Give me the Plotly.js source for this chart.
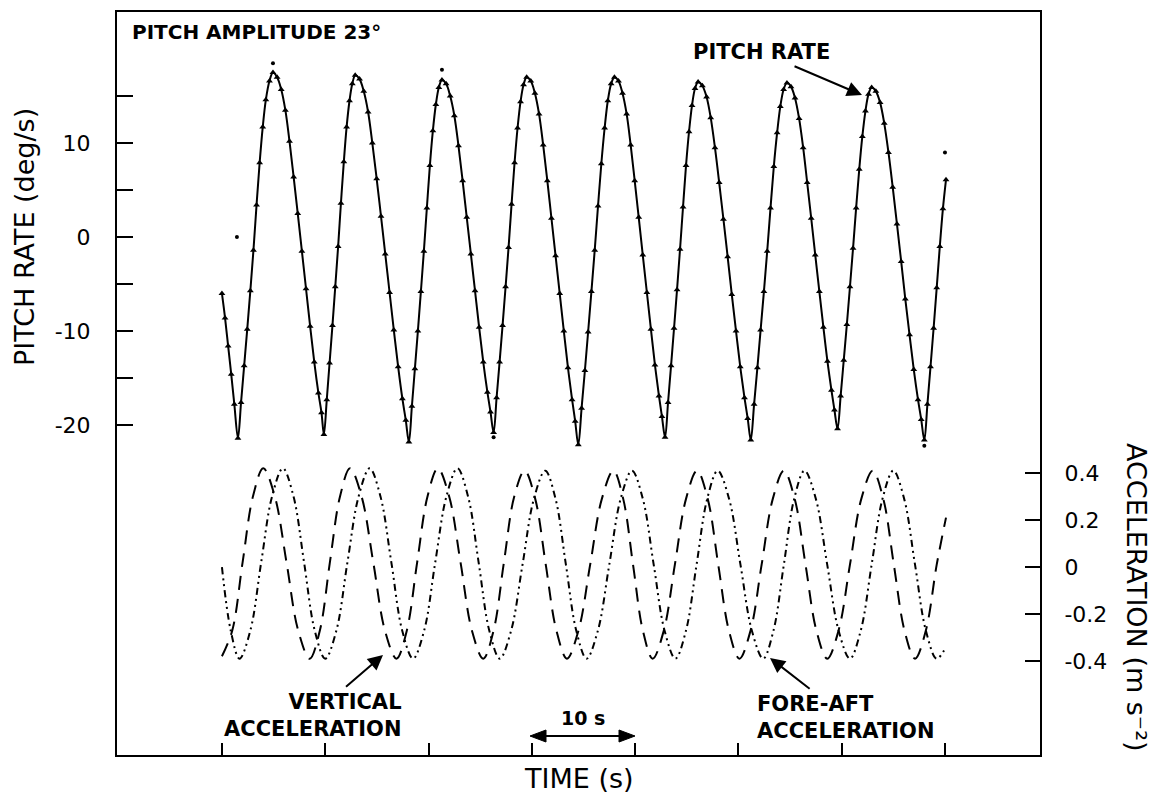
<!DOCTYPE html>
<html>
<head>
<meta charset="utf-8">
<script src="https://cdn.plot.ly/plotly-3.0.1.min.js"></script>
<style>html,body{margin:0;padding:0;background:#fff;}#chart{width:1158px;height:801px;}</style>
</head>
<body>
<div id="chart"></div>
<script>
// ---- Data ----
const pitchTime = [
  0, 0.3, 0.6, 0.9, 1.2, 1.55,
  1.85, 2.15, 2.45, 2.75, 3.05, 3.35, 3.65, 3.95, 4.25, 4.6, 4.94,
  5.34, 5.74, 6.14, 6.54, 6.94, 7.34, 7.74, 8.14, 8.54, 8.94, 9.34, 9.64, 9.87,
  10.15, 10.42, 10.7, 10.97, 11.25, 11.52, 11.8, 12.07, 12.35, 12.62, 12.9,
  13.32, 13.73, 14.15, 14.56, 14.98, 15.4, 15.81, 16.23, 16.64, 17.06, 17.47, 17.8, 18.1,
  18.39, 18.68, 18.97, 19.26, 19.55, 19.84, 20.13, 20.42, 20.71, 21.0, 21.3,
  21.7, 22.1, 22.5, 22.9, 23.3, 23.7, 24.1, 24.5, 24.9, 25.3, 25.7, 26.0, 26.3,
  26.59, 26.88, 27.17, 27.46, 27.75, 28.04, 28.33, 28.62, 28.91, 29.2, 29.5,
  29.9, 30.3, 30.7, 31.1, 31.5, 31.9, 32.3, 32.7, 33.1, 33.5, 33.9, 34.2, 34.5,
  34.82, 35.14, 35.45, 35.77, 36.09, 36.41, 36.73, 37.05, 37.36, 37.68, 38.0,
  38.39, 38.78, 39.18, 39.57, 39.96, 40.35, 40.74, 41.14, 41.53, 41.92, 42.31, 42.6, 42.9,
  43.19, 43.48, 43.77, 44.06, 44.35, 44.64, 44.93, 45.22, 45.51, 45.8, 46.1,
  46.51, 46.92, 47.32, 47.73, 48.14, 48.55, 48.96, 49.36, 49.77, 50.18, 50.59, 50.9, 51.2,
  51.52, 51.84, 52.15, 52.47, 52.79, 53.11, 53.43, 53.75, 54.06, 54.38, 54.7,
  55.09, 55.48, 55.88, 56.27, 56.66, 57.05, 57.44, 57.84, 58.23, 58.62, 59.01, 59.3, 59.6,
  59.9, 60.2, 60.5, 60.8, 61.1, 61.4, 61.7, 62.0, 62.3, 62.6, 62.9,
  63.31, 63.72, 64.12, 64.53, 64.94, 65.35, 65.76, 66.16, 66.57, 66.98, 67.39, 67.7, 68.0,
  68.3, 68.6, 68.9, 69.2, 69.5, 69.8, 70.1
];
const pitchRate = [
  -6.0, -8.6, -11.6, -14.6, -17.8, -21.4,
  -17.6, -13.7, -9.8, -5.7, -1.4, 3.4, 7.9, 11.7, 14.6, 16.6, 17.5,
  17.0, 15.7, 13.5, 10.2, 6.4, 2.5, -1.5, -5.5, -9.5, -13.3, -16.6, -18.7, -21.0,
  -17.3, -13.4, -9.4, -5.3, -1.0, 3.6, 8.0, 11.7, 14.5, 16.3, 17.2,
  16.8, 15.5, 13.3, 10.0, 6.2, 2.2, -1.8, -5.9, -9.9, -13.8, -17.2, -19.5, -21.8,
  -18.0, -14.0, -10.0, -5.8, -1.5, 3.1, 7.6, 11.3, 14.1, 15.9, 16.7,
  16.3, 15.0, 12.9, 9.7, 6.0, 2.1, -1.8, -5.7, -9.6, -13.3, -16.5, -18.6, -20.8,
  -17.1, -13.3, -9.4, -5.3, -1.1, 3.5, 7.9, 11.6, 14.4, 16.2, 17.0,
  16.6, 15.3, 13.1, 9.8, 6.0, 2.0, -2.0, -6.0, -10.0, -13.9, -17.3, -19.6, -22.1,
  -18.2, -14.2, -10.1, -5.8, -1.4, 3.3, 7.8, 11.6, 14.5, 16.3, 17.0,
  16.6, 15.3, 13.1, 9.8, 6.0, 2.1, -1.9, -5.9, -9.8, -13.6, -16.9, -19.1, -21.3,
  -17.6, -13.7, -9.7, -5.6, -1.3, 3.2, 7.6, 11.2, 14.0, 15.8, 16.5,
  16.1, 14.9, 12.7, 9.5, 5.8, 1.9, -2.1, -6.1, -10.0, -13.8, -17.1, -19.3, -21.6,
  -17.8, -13.9, -9.9, -5.8, -1.5, 3.1, 7.5, 11.1, 13.9, 15.7, 16.4,
  16.0, 14.8, 12.6, 9.5, 5.8, 2.0, -1.9, -5.8, -9.6, -13.2, -16.3, -18.4, -20.4,
  -16.9, -13.1, -9.3, -5.3, -1.2, 3.1, 7.2, 10.7, 13.4, 15.2, 15.9,
  15.5, 14.3, 12.1, 9.0, 5.3, 1.4, -2.6, -6.6, -10.4, -14.1, -17.3, -19.4, -21.6,
  -17.8, -13.8, -9.7, -5.4, -1.0, 3.0, 6.1
];
// stray measured points lying off the fitted curve
const strayTime = [1.45, 4.94, 21.3, 26.3, 68.0, 70.0];
const strayRate = [0.0, 18.5, 17.8, -21.3, -22.2, 9.0];

const vertTime = [
  0.0, 1.0, 2.0, 3.0, 4.0,
  5.12, 6.25, 7.38, 8.5,
  9.48, 10.45, 11.43, 12.4,
  13.52, 14.65, 15.78, 16.9,
  17.9, 18.9, 19.9, 20.9,
  22.0, 23.1, 24.2, 25.3,
  26.3, 27.3, 28.3, 29.3,
  30.33, 31.35, 32.38, 33.4,
  34.52, 35.65, 36.78, 37.9,
  38.85, 39.8, 40.75, 41.7,
  42.78, 43.85, 44.93, 46.0,
  47.03, 48.05, 49.08, 50.1,
  51.18, 52.25, 53.33, 54.4,
  55.45, 56.5, 57.55, 58.6,
  59.7, 60.8, 61.9, 63.0,
  64.03, 65.05, 66.08, 67.1,
  68.15, 69.2, 70.1
];
const vertAccel = [
  -0.38, -0.27, 0.02, 0.30, 0.42,
  0.30, 0.02, -0.27, -0.39,
  -0.27, 0.02, 0.30, 0.42,
  0.30, 0.02, -0.27, -0.39,
  -0.27, 0.02, 0.30, 0.42,
  0.30, 0.02, -0.27, -0.39,
  -0.27, 0.02, 0.30, 0.41,
  0.29, 0.01, -0.27, -0.39,
  -0.27, 0.01, 0.29, 0.41,
  0.29, 0.01, -0.27, -0.39,
  -0.27, 0.01, 0.29, 0.41,
  0.29, 0.01, -0.27, -0.39,
  -0.27, 0.01, 0.29, 0.41,
  0.29, 0.01, -0.27, -0.39,
  -0.27, 0.01, 0.29, 0.41,
  0.29, 0.01, -0.27, -0.39,
  -0.27, 0.01, 0.21
];
const foreTime = [
  0.0, 0.85, 1.7,
  2.75, 3.8, 4.85, 5.9,
  6.93, 7.95, 8.98, 10.0,
  11.08, 12.15, 13.23, 14.3,
  15.35, 16.4, 17.45, 18.5,
  19.58, 20.65, 21.73, 22.8,
  23.83, 24.85, 25.88, 26.9,
  28.0, 29.1, 30.2, 31.3,
  32.3, 33.3, 34.3, 35.3,
  36.4, 37.5, 38.6, 39.7,
  40.75, 41.8, 42.85, 43.9,
  44.93, 45.95, 46.98, 48.0,
  49.1, 50.2, 51.3, 52.4,
  53.4, 54.4, 55.4, 56.4,
  57.5, 58.6, 59.7, 60.8,
  61.85, 62.9, 63.95, 65.0,
  66.05, 67.1, 68.15, 69.2,
  70.1
];
const foreAccel = [
  0.0, -0.27, -0.39,
  -0.27, 0.02, 0.30, 0.42,
  0.30, 0.02, -0.27, -0.39,
  -0.27, 0.02, 0.30, 0.42,
  0.30, 0.02, -0.27, -0.39,
  -0.27, 0.02, 0.30, 0.42,
  0.30, 0.02, -0.27, -0.39,
  -0.27, 0.01, 0.29, 0.41,
  0.29, 0.01, -0.27, -0.39,
  -0.27, 0.01, 0.29, 0.41,
  0.29, 0.01, -0.27, -0.39,
  -0.27, 0.01, 0.29, 0.41,
  0.29, 0.01, -0.27, -0.39,
  -0.27, 0.01, 0.29, 0.41,
  0.29, 0.01, -0.27, -0.39,
  -0.27, 0.01, 0.29, 0.41,
  0.29, 0.01, -0.27, -0.39,
  -0.34
];
const timeTicks = [0, 10, 20, 30, 40, 50, 60, 70];
const pitchTicks = [-20, -10, 0, 10];
const pitchTickText = ['-20', '-10', '0', '10'];
const pitchMinorTicks = [-15, -5, 5, 15];
const accelTicks = [-0.4, -0.2, 0, 0.2, 0.4];
const accelTickText = ['-0.4', '-0.2', '0', '0.2', '0.4'];

// ---- Layout geometry (pixels) ----
const L = 117, R = 1040, T = 12, B = 755;
const W = R - L, H = B - T;
const px = (x, y) => ({ x: (x - L) / W, y: (B - y) / H });
const FONT = '"DejaVu Sans", "Liberation Sans", Arial, sans-serif';
const BLACK = '#000';

const traces = [
  {
    x: foreTime, y: foreAccel, yaxis: 'y2', mode: 'lines',
    line: { color: BLACK, width: 2, dash: '7px,4px,2px,4px,2px,4px', shape: 'spline' },
    hoverinfo: 'skip'
  },
  {
    x: vertTime, y: vertAccel, yaxis: 'y2', mode: 'lines',
    line: { color: BLACK, width: 2, dash: '14px,9px', shape: 'spline' },
    hoverinfo: 'skip'
  },
  {
    x: pitchTime, y: pitchRate, mode: 'lines+markers',
    line: { color: BLACK, width: 2, shape: 'spline', smoothing: 1 },
    marker: { symbol: 'triangle-up', size: 6, color: BLACK }
  },
  {
    x: strayTime, y: strayRate, mode: 'markers',
    marker: { symbol: 'circle', size: 4, color: BLACK }
  }
];

function font(size) { return { family: FONT, size: size, color: BLACK }; }
function ann(pos, text, opts) {
  const p = px(pos[0], pos[1]);
  return Object.assign({ xref: 'paper', yref: 'paper', x: p.x, y: p.y, text: text, showarrow: false,
    font: font(21) }, opts || {});
}
// text with an arrow: arrow tip at `tip`, text box centred at `center`
function annArrow(tip, center, text, opts) {
  const p = px(tip[0], tip[1]);
  return Object.assign({ xref: 'paper', yref: 'paper', x: p.x, y: p.y, text: text, showarrow: true,
    ax: center[0] - tip[0], ay: center[1] - tip[1], arrowhead: 2, arrowsize: 1.5, arrowwidth: 2,
    arrowcolor: BLACK, standoff: 0, startstandoff: 2, font: font(21) }, opts || {});
}

const annotations = [
  ann([130, 32], '<b>PITCH AMPLITUDE 23°</b>', { xanchor: 'left', yanchor: 'middle', font: font(20) }),
  annArrow([862, 95], [761, 52], '<b>PITCH RATE</b>'),
  annArrow([383, 655], [313, 715], '<b>VERTICAL<br>ACCELERATION</b>', { align: 'right' }),
  annArrow([770, 658], [846, 717], '<b>FORE-AFT<br>ACCELERATION</b>', { align: 'left' }),
  ann([583, 718], '<b>10 s</b>', { xanchor: 'center', yanchor: 'middle', font: font(19) }),
  ann([579, 778], 'TIME (s)', { xanchor: 'center', yanchor: 'middle', font: font(27) }),
  ann([25, 237], 'PITCH RATE (deg/s)', { xanchor: 'center', yanchor: 'middle', textangle: -90, font: font(27) }),
  ann([1137, 597], 'ACCELERATION (m s⁻²)', { xanchor: 'center', yanchor: 'middle', textangle: 90, font: font(27) })
];

// "10 s" double-headed arrow drawn as shapes
function pathPaper(points) {
  return 'M' + points.map(p => { const q = px(p[0], p[1]); return q.x + ',' + q.y; }).join(' L') + ' Z';
}
const arrowY = 736;
const shapes = [
  { type: 'line', xref: 'paper', yref: 'paper', x0: px(542, 0).x, x1: px(623, 0).x, y0: px(0, arrowY).y, y1: px(0, arrowY).y,
    line: { color: BLACK, width: 2 } },
  { type: 'path', xref: 'paper', yref: 'paper', path: pathPaper([[635, arrowY], [619, arrowY - 6], [619, arrowY + 6]]),
    fillcolor: BLACK, line: { color: BLACK, width: 1 } },
  { type: 'path', xref: 'paper', yref: 'paper', path: pathPaper([[530, arrowY], [546, arrowY - 6], [546, arrowY + 6]]),
    fillcolor: BLACK, line: { color: BLACK, width: 1 } }
];

const layout = {
  width: 1158, height: 801,
  margin: { l: L, r: 1158 - R, t: T, b: 801 - B, pad: 0 },
  paper_bgcolor: '#fff', plot_bgcolor: '#fff',
  showlegend: false,
  font: { family: FONT, color: BLACK },
  xaxis: {
    range: [-10.16, 79.2], showline: true, linecolor: BLACK, linewidth: 2, mirror: true,
    tickmode: 'array', tickvals: timeTicks, ticks: 'inside', ticklen: 12, tickwidth: 2, tickcolor: BLACK,
    showticklabels: false, showgrid: false, zeroline: false, fixedrange: true
  },
  yaxis: {
    range: [-55.1, 23.94], showline: true, linecolor: BLACK, linewidth: 2,
    tickmode: 'array', tickvals: pitchTicks, ticktext: pitchTickText,
    ticks: 'inside', ticklen: 16, tickwidth: 2, tickcolor: BLACK,
    minor: { tickmode: 'array', tickvals: pitchMinorTicks, ticks: 'inside', ticklen: 16, tickwidth: 2, tickcolor: BLACK, showgrid: false },
    tickfont: font(22), ticklabelstandoff: 20,
    showgrid: false, zeroline: false, fixedrange: true
  },
  yaxis2: {
    overlaying: 'y', side: 'right', range: [-0.8, 2.362],
    showline: true, linecolor: BLACK, linewidth: 2,
    tickmode: 'array', tickvals: accelTicks, ticktext: accelTickText,
    ticks: 'inside', ticklen: 15, tickwidth: 2, tickcolor: BLACK,
    tickfont: font(22), ticklabelstandoff: 18,
    showgrid: false, zeroline: false, fixedrange: true
  },
  annotations: annotations,
  shapes: shapes
};

Plotly.newPlot('chart', traces, layout, { displayModeBar: false, staticPlot: true });
</script>
</body>
</html>
